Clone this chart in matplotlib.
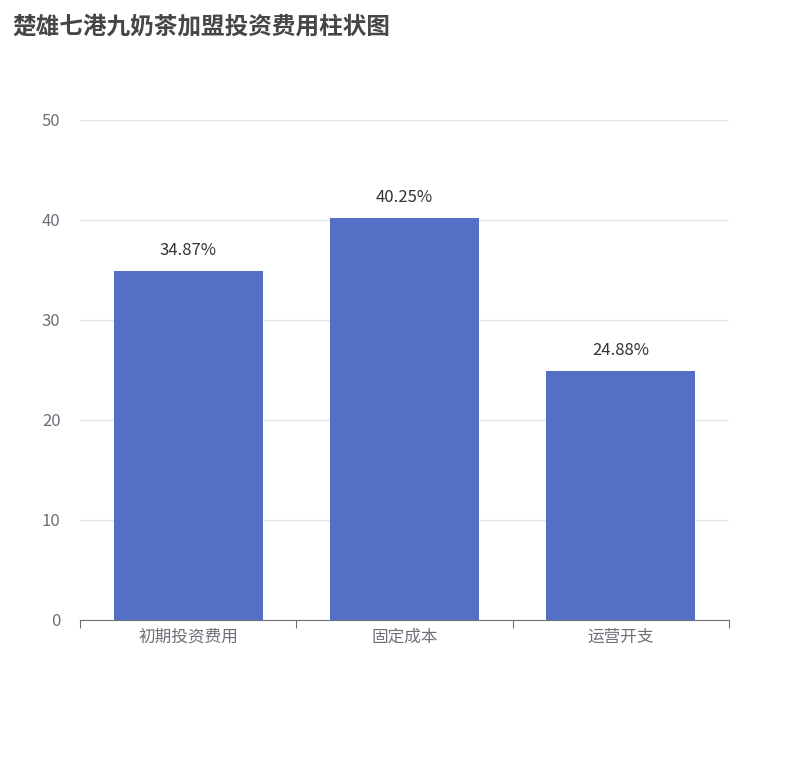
import matplotlib.pyplot as plt
import numpy as np

plt.rcParams['font.family'] = ['Noto Sans CJK SC', 'DejaVu Sans']

categories = ['初期投资费用', '固定成本', '运营开支']
values = [34.87, 40.25, 24.88]
labels = ['34.87%', '40.25%', '24.88%']

fig = plt.figure(figsize=(8.1, 7.6), dpi=100)
ax = fig.add_axes([80/810, 1-620/760, 649/810, 500/760])

x = np.arange(len(categories))
bars = ax.bar(x, values, width=0.69, color='#5470c6', zorder=3)
for b, lab in zip(bars, labels):
    ax.text(b.get_x() + b.get_width()/2, b.get_height() + 1.2, lab,
            ha='center', va='bottom', fontsize=12, color='#333333')

ax.set_xlim(-0.5, 2.5)
ax.set_ylim(0, 50)
ax.set_yticks([0, 10, 20, 30, 40, 50])
ax.grid(axis='y', color='#e0e6f1', linewidth=1, zorder=0)
for s in ['top', 'right', 'left']:
    ax.spines[s].set_visible(False)
ax.spines['bottom'].set_color('#6e7079')
ax.tick_params(axis='y', length=0, labelsize=12, labelcolor='#6e7079', pad=14)
ax.set_xticks([-0.5, 0.5, 1.5, 2.5])
ax.set_xticklabels([])
ax.set_xticks(x, minor=True)
ax.set_xticklabels(categories, minor=True)
ax.tick_params(axis='x', which='major', length=6, color='#6e7079', direction='out')
ax.tick_params(axis='x', which='minor', length=0, labelsize=12, labelcolor='#6e7079', pad=6)

fig.text(12/810, 1-26/760, '楚雄七港九奶茶加盟投资费用柱状图', fontsize=17, fontweight='bold',
         color='#464646', va='center', ha='left')

fig.savefig('out.png', dpi=100, facecolor='white')
